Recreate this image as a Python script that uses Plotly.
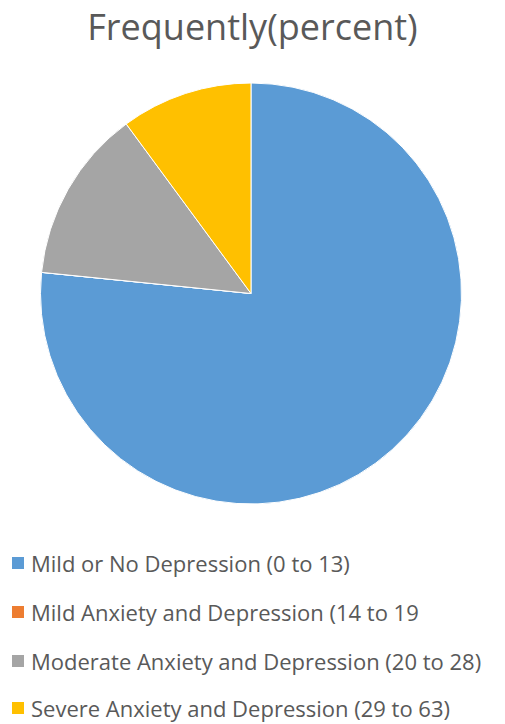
import plotly.graph_objects as go

labels = [
    "Mild or No Depression (0 to 13)",
    "Mild Anxiety and Depression (14 to 19",
    "Moderate Anxiety and Depression (20 to 28)",
    "Severe Anxiety and Depression (29 to 63)",
]
values = [76.6, 0.0, 13.3, 10.1]
colors = ["#5B9BD5", "#ED7D31", "#A5A5A5", "#FFC000"]
title_text = "Frequently(percent)"

W, H = 505, 724
text_color = "#595959"
font_family = "Open Sans, Liberation Sans, sans-serif"

# legend row centres (px from top) - layout only
legend_rows = [563, 612, 661, 708]

fig = go.Figure()
fig.add_trace(go.Pie(
    labels=labels,
    values=values,
    marker=dict(colors=colors, line=dict(color="white", width=1)),
    sort=False,
    direction="clockwise",
    rotation=0,
    textinfo="none",
    hoverinfo="label+value",
    showlegend=False,
    domain=dict(x=[40 / W, 462 / W], y=[1 - 504 / H, 1 - 83 / H]),
))

shapes = []
annotations = []
for lab, col, yc in zip(labels, colors, legend_rows):
    shapes.append(dict(
        type="rect", xref="paper", yref="paper",
        x0=12 / W, x1=24 / W, y0=1 - (yc + 6) / H, y1=1 - (yc - 6) / H,
        fillcolor=col, line=dict(width=0),
    ))
    annotations.append(dict(
        text=lab, xref="paper", yref="paper",
        x=30 / W, xanchor="left", y=1 - yc / H, yanchor="middle",
        showarrow=False, borderpad=0,
        font=dict(family=font_family, size=22, color=text_color),
    ))

fig.update_layout(
    width=W, height=H,
    margin=dict(l=0, r=0, t=0, b=0),
    paper_bgcolor="white", plot_bgcolor="white",
    showlegend=False,
    title=dict(text=title_text, x=0.5, xanchor="center", y=1 - 27 / H, yanchor="middle",
               font=dict(family=font_family, size=36, color=text_color)),
    shapes=shapes,
    annotations=annotations,
)

fig.write_html("out.html")
